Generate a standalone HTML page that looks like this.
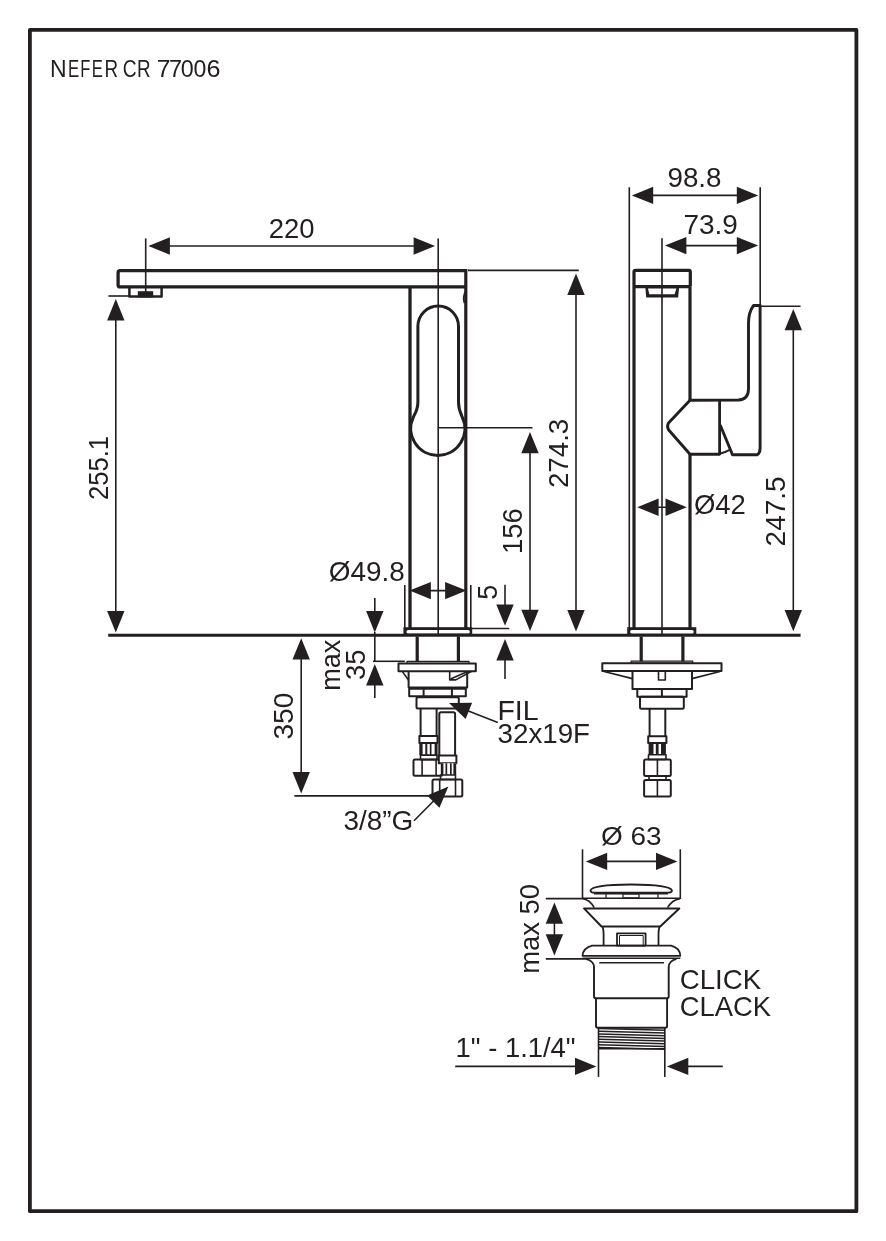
<!DOCTYPE html>
<html><head><meta charset="utf-8"><style>
html,body{margin:0;padding:0;background:#fff;}
svg{display:block;will-change:transform;}
text{font-family:"Liberation Sans",sans-serif;fill:#231f20;stroke:none;}
</style></head><body>
<svg width="886" height="1241" viewBox="0 0 886 1241">
<rect x="0" y="0" width="886" height="1241" fill="#fff"/>
<g stroke="#231f20" fill="none" stroke-linejoin="round">
<rect x="29.90" y="29.80" width="826.50" height="1181.40" rx="0" stroke-width="3.8" fill="none"/>
<text transform="translate(50.06,76.80) scale(0.9518,1)" font-size="24.20">N</text>
<text transform="translate(67.95,76.80) scale(0.6975,1)" font-size="24.20">E</text>
<text transform="translate(80.18,76.80) scale(0.6830,1)" font-size="24.20">F</text>
<text transform="translate(91.86,76.80) scale(0.6899,1)" font-size="24.20">E</text>
<text transform="translate(104.39,76.80) scale(0.7777,1)" font-size="24.20">R</text>
<text transform="translate(122.74,76.56) scale(0.8168,1)" font-size="23.52">C</text>
<text transform="translate(137.09,76.80) scale(0.7777,1)" font-size="24.20">R</text>
<text transform="translate(156.67,76.80) scale(1.0170,1)" font-size="24.20">7</text>
<text transform="translate(168.92,76.80) scale(0.9716,1)" font-size="24.20">7</text>
<text transform="translate(180.87,76.56) scale(0.9920,1)" font-size="23.52">0</text>
<text transform="translate(193.57,76.56) scale(0.9832,1)" font-size="23.52">0</text>
<text transform="translate(206.44,76.56) scale(1.0697,1)" font-size="23.52">6</text>
<path d="M465.8,270.6 L120.1,270.6 Q118.1,270.6 118.1,272.6 L118.1,284.9 Q118.1,286.9 120.1,286.9 L465.8,286.9" stroke-width="3.3" fill="none"/>
<line x1="465.80" y1="269.00" x2="465.80" y2="628.00" stroke-width="3.2"/>
<line x1="410.00" y1="286.60" x2="410.00" y2="628.00" stroke-width="3.3"/>
<path d="M465.3,292 Q462.6,297.5 464.4,303" stroke-width="1.8" fill="none"/>
<polyline points="129.40,286.20 129.40,296.60 161.60,296.60 161.60,286.20" stroke-width="2.5" fill="none"/>
<rect x="137.80" y="291.20" width="15.40" height="6.20" rx="0" stroke-width="0" fill="#231f20"/>
<path d="M417.9,326.3 A20.3,20.3 0 0 1 458.5,326.3 L458.5,402 Q458.5,409 462,416.5 A27,27 0 1 1 413.6,416.5 Q417.9,409 417.9,402 Z" stroke-width="3.0" fill="none"/>
<line x1="438.20" y1="238.40" x2="438.20" y2="635.00" stroke-width="1.6"/>
<rect x="403.40" y="627.20" width="68.80" height="8.30" rx="0" stroke-width="0" fill="#231f20"/>
<rect x="406.5" y="630" width="63.3" height="3.5" rx="1.6" fill="#fff" stroke="none"/>
<line x1="438.20" y1="629.00" x2="438.20" y2="635.00" stroke-width="1.6"/>
<line x1="108.20" y1="635.20" x2="800.60" y2="635.20" stroke-width="3"/>
<line x1="145.70" y1="238.40" x2="145.70" y2="296.50" stroke-width="1.6"/>
<line x1="150.00" y1="246.00" x2="433.00" y2="246.00" stroke-width="1.6"/>
<polygon points="148.50,246.00 169.90,237.30 169.90,254.70" stroke="none" fill="#231f20"/>
<polygon points="435.00,246.00 413.60,254.70 413.60,237.30" stroke="none" fill="#231f20"/>
<text transform="translate(268.63,237.62) scale(0.9751,1)" font-size="28.17">220</text>
<line x1="108.50" y1="296.00" x2="129.00" y2="296.00" stroke-width="1.6"/>
<line x1="115.80" y1="305.00" x2="115.80" y2="626.00" stroke-width="1.6"/>
<polygon points="115.80,299.00 124.50,320.40 107.10,320.40" stroke="none" fill="#231f20"/>
<polygon points="115.80,632.50 107.10,611.10 124.50,611.10" stroke="none" fill="#231f20"/>
<text transform="translate(107.62,499.98) rotate(-90) scale(0.9138,1)" font-size="28.03">255.1</text>
<line x1="468.00" y1="270.40" x2="578.80" y2="270.40" stroke-width="1.6"/>
<line x1="576.00" y1="280.00" x2="576.00" y2="625.00" stroke-width="1.6"/>
<polygon points="576.00,273.50 584.70,294.90 567.30,294.90" stroke="none" fill="#231f20"/>
<polygon points="576.00,631.50 567.30,610.10 584.70,610.10" stroke="none" fill="#231f20"/>
<text transform="translate(567.62,488.09) rotate(-90) scale(0.9939,1)" font-size="27.89">274.3</text>
<line x1="438.20" y1="427.70" x2="532.50" y2="427.70" stroke-width="1.6"/>
<line x1="530.00" y1="438.00" x2="530.00" y2="625.00" stroke-width="1.6"/>
<polygon points="530.00,431.90 538.70,453.30 521.30,453.30" stroke="none" fill="#231f20"/>
<polygon points="530.00,631.10 521.30,609.70 538.70,609.70" stroke="none" fill="#231f20"/>
<text transform="translate(521.52,554.06) rotate(-90) scale(0.9855,1)" font-size="27.89">156</text>
<line x1="404.80" y1="585.00" x2="404.80" y2="628.00" stroke-width="1.6"/>
<line x1="470.80" y1="585.00" x2="470.80" y2="628.00" stroke-width="1.6"/>
<line x1="415.00" y1="590.60" x2="461.00" y2="590.60" stroke-width="1.6"/>
<polygon points="409.50,590.60 430.90,581.90 430.90,599.30" stroke="none" fill="#231f20"/>
<polygon points="466.50,590.60 445.10,599.30 445.10,581.90" stroke="none" fill="#231f20"/>
<text transform="translate(328.82,581.22) scale(1.0285,1)" font-size="27.11">Ø49.8</text>
<line x1="505.00" y1="584.70" x2="505.00" y2="610.00" stroke-width="1.6"/>
<polygon points="505.00,625.80 496.30,604.40 513.70,604.40" stroke="none" fill="#231f20"/>
<line x1="471.60" y1="628.50" x2="509.30" y2="628.50" stroke-width="1.6"/>
<line x1="505.00" y1="650.00" x2="505.00" y2="679.00" stroke-width="1.6"/>
<polygon points="505.00,639.00 513.70,660.40 496.30,660.40" stroke="none" fill="#231f20"/>
<text transform="translate(496.72,599.68) rotate(-90) scale(0.9479,1)" font-size="28.43">5</text>
<line x1="374.80" y1="598.00" x2="374.80" y2="620.00" stroke-width="1.6"/>
<polygon points="374.80,632.40 366.10,611.00 383.50,611.00" stroke="none" fill="#231f20"/>
<line x1="373.00" y1="661.30" x2="404.80" y2="661.30" stroke-width="1.6"/>
<line x1="374.80" y1="632.00" x2="374.80" y2="661.30" stroke-width="1.6"/>
<line x1="374.80" y1="675.00" x2="374.80" y2="698.00" stroke-width="1.6"/>
<polygon points="374.80,664.00 383.50,685.40 366.10,685.40" stroke="none" fill="#231f20"/>
<text transform="translate(339.63,690.76) rotate(-90) scale(0.9986,1)" font-size="27.09">max</text>
<text transform="translate(364.62,680.00) rotate(-90) scale(0.9852,1)" font-size="27.89">35</text>
<line x1="301.20" y1="645.00" x2="301.20" y2="788.00" stroke-width="1.6"/>
<polygon points="301.20,638.20 309.90,659.60 292.50,659.60" stroke="none" fill="#231f20"/>
<polygon points="301.20,793.50 292.50,772.10 309.90,772.10" stroke="none" fill="#231f20"/>
<line x1="294.40" y1="795.90" x2="433.00" y2="795.90" stroke-width="1.6"/>
<text transform="translate(292.62,739.52) rotate(-90) scale(1.0030,1)" font-size="28.03">350</text>
<text transform="translate(343.38,829.63) scale(1.0220,1)" font-size="27.35">3/8”G</text>
<line x1="414.00" y1="820.80" x2="440.00" y2="794.50" stroke-width="1.6"/>
<polygon points="448.40,786.40 439.42,807.68 427.12,795.38" stroke="none" fill="#231f20"/>
<text transform="translate(497.42,719.60) scale(1.0151,1)" font-size="28.12">FIL</text>
<text transform="translate(497.59,743.43) scale(1.0101,1)" font-size="27.46">32x19F</text>
<line x1="497.80" y1="722.50" x2="462.00" y2="708.40" stroke-width="1.6"/>
<polygon points="449.00,703.00 472.10,702.86 465.64,719.02" stroke="none" fill="#231f20"/>
<line x1="417.20" y1="636.50" x2="417.20" y2="661.50" stroke-width="3.2"/>
<line x1="458.40" y1="636.50" x2="458.40" y2="661.50" stroke-width="3.2"/>
<rect x="407.00" y="661.30" width="62.00" height="2.10" rx="0" stroke-width="1.2" fill="none"/>
<rect x="398.50" y="663.40" width="77.30" height="7.90" rx="0" stroke-width="2" fill="none"/>
<polyline points="408.60,671.30 408.60,687.60 467.20,687.60 467.20,671.30" stroke-width="2" fill="none"/>
<polyline points="402.40,671.60 408.60,680.30" stroke-width="1.6" fill="none"/>
<polyline points="449.70,671.30 449.70,679.90 455.80,679.90 471.60,671.30" stroke-width="1.6" fill="none"/>
<line x1="450.50" y1="679.00" x2="467.10" y2="671.80" stroke-width="1.6"/>
<rect x="409.20" y="688.80" width="56.60" height="7.50" rx="0" stroke-width="2" fill="none"/>
<line x1="423.60" y1="688.80" x2="423.60" y2="696.30" stroke-width="2"/>
<line x1="451.90" y1="688.80" x2="451.90" y2="696.30" stroke-width="2"/>
<rect x="416.50" y="697.20" width="42.30" height="11.30" rx="1.5" stroke-width="2" fill="none"/>
<line x1="420.60" y1="708.50" x2="420.60" y2="736.10" stroke-width="2"/>
<line x1="436.60" y1="708.50" x2="436.60" y2="736.10" stroke-width="2"/>
<rect x="419.40" y="736.10" width="18.10" height="6.80" rx="0" stroke-width="2" fill="none"/>
<rect x="419.30" y="742.90" width="3.30" height="12.20" rx="0" stroke-width="0" fill="#231f20"/>
<rect x="425.30" y="742.90" width="2.00" height="12.20" rx="0" stroke-width="0" fill="#231f20"/>
<rect x="429.80" y="742.90" width="1.70" height="12.20" rx="0" stroke-width="0" fill="#231f20"/>
<rect x="434.60" y="742.90" width="3.00" height="12.20" rx="0" stroke-width="0" fill="#231f20"/>
<rect x="420.50" y="755.10" width="16.50" height="4.50" rx="0" stroke-width="1.6" fill="none"/>
<rect x="413.50" y="759.60" width="28.90" height="16.20" rx="1.5" stroke-width="2" fill="none"/>
<line x1="422.10" y1="759.60" x2="422.10" y2="775.80" stroke-width="1.6"/>
<line x1="436.10" y1="759.60" x2="436.10" y2="775.80" stroke-width="1.6"/>
<path d="M439.3,755.5 L439.3,714 Q439.3,712.2 441,712.2 L453.4,712.2 Q455.1,712.2 455.1,714 L455.1,755.5" stroke-width="2" fill="none"/>
<rect x="438.80" y="755.50" width="17.60" height="7.70" rx="0" stroke-width="2" fill="#fff"/>
<rect x="440.80" y="763.20" width="15.40" height="11.80" rx="0" stroke-width="0" fill="#fff"/>
<rect x="440.80" y="763.20" width="2.60" height="11.80" rx="0" stroke-width="0" fill="#231f20"/>
<rect x="445.50" y="763.20" width="1.70" height="11.80" rx="0" stroke-width="0" fill="#231f20"/>
<rect x="450.00" y="763.20" width="1.70" height="11.80" rx="0" stroke-width="0" fill="#231f20"/>
<rect x="453.40" y="763.20" width="2.80" height="11.80" rx="0" stroke-width="0" fill="#231f20"/>
<rect x="440.50" y="775.00" width="15.00" height="4.50" rx="0" stroke-width="1.6" fill="none"/>
<rect x="432.50" y="779.50" width="29.80" height="17.10" rx="1.5" stroke-width="2" fill="none"/>
<line x1="439.70" y1="779.50" x2="439.70" y2="796.60" stroke-width="1.6"/>
<line x1="455.50" y1="779.50" x2="455.50" y2="796.60" stroke-width="1.6"/>
<line x1="629.30" y1="187.20" x2="629.30" y2="628.00" stroke-width="1.6"/>
<line x1="760.20" y1="187.20" x2="760.20" y2="305.00" stroke-width="1.6"/>
<line x1="635.00" y1="195.40" x2="755.00" y2="195.40" stroke-width="1.6"/>
<polygon points="631.80,195.40 653.20,186.70 653.20,204.10" stroke="none" fill="#231f20"/>
<polygon points="758.20,195.40 736.80,204.10 736.80,186.70" stroke="none" fill="#231f20"/>
<text transform="translate(667.45,186.62) scale(0.9917,1)" font-size="28.03">98.8</text>
<line x1="662.00" y1="238.20" x2="662.00" y2="635.00" stroke-width="1.6"/>
<line x1="668.00" y1="245.60" x2="755.00" y2="245.60" stroke-width="1.6"/>
<polygon points="665.00,245.60 686.40,236.90 686.40,254.30" stroke="none" fill="#231f20"/>
<polygon points="758.20,245.60 736.80,254.30 736.80,236.90" stroke="none" fill="#231f20"/>
<text transform="translate(683.40,233.52) scale(0.9990,1)" font-size="28.03">73.9</text>
<path d="M634,628 L634,272 Q634,270.3 635.7,270.3 L689,270.3 Q690.3,270.3 690.3,272 L690.3,286.6" stroke-width="3.2" fill="none"/>
<line x1="634.00" y1="286.60" x2="690.30" y2="286.60" stroke-width="3.2"/>
<line x1="690.00" y1="286.60" x2="690.00" y2="400.30" stroke-width="3.2"/>
<line x1="690.00" y1="454.00" x2="690.00" y2="628.00" stroke-width="3.2"/>
<polygon points="645.3,286.6 646.2,297.6 678.2,297.6 679.1,286.6" fill="#231f20" stroke="none"/>
<polygon points="648,288.4 649.3,294.3 674.6,294.3 676.4,288.4" fill="#fff" stroke="none"/>
<line x1="662.00" y1="286.00" x2="662.00" y2="298.00" stroke-width="1.6"/>
<path d="M690,400.3 L738.4,400 Q748.5,399.5 748.5,388.7 L748.5,323.4 Q748.5,312 753.6,305.5 L760.1,305.5 L760.1,448.2 Q760.1,453 757.2,454.8 L732.5,454.8 L720.2,425" stroke-width="2.9" fill="none"/>
<path d="M690,400.3 L668.5,423 Q666.5,426.3 668.5,429.7 L690,454.2 L720.2,454.2" stroke-width="2.9" fill="none"/>
<line x1="719.60" y1="400.30" x2="719.60" y2="455.00" stroke-width="2.8"/>
<path d="M720.2,453.5 Q725,452.5 729.6,449.8" stroke-width="2" fill="none"/>
<line x1="760.00" y1="306.30" x2="800.60" y2="306.30" stroke-width="1.6"/>
<line x1="793.30" y1="315.00" x2="793.30" y2="625.00" stroke-width="1.6"/>
<polygon points="793.30,308.90 802.00,330.30 784.60,330.30" stroke="none" fill="#231f20"/>
<polygon points="793.30,631.30 784.60,609.90 802.00,609.90" stroke="none" fill="#231f20"/>
<text transform="translate(784.72,546.40) rotate(-90) scale(0.9879,1)" font-size="28.31">247.5</text>
<line x1="642.00" y1="507.20" x2="682.00" y2="507.20" stroke-width="1.6"/>
<polygon points="637.20,507.20 658.60,498.50 658.60,515.90" stroke="none" fill="#231f20"/>
<polygon points="686.90,507.20 665.50,515.90 665.50,498.50" stroke="none" fill="#231f20"/>
<text transform="translate(693.94,514.32) scale(1.0135,1)" font-size="27.11">Ø42</text>
<rect x="627.20" y="627.20" width="69.10" height="8.30" rx="0" stroke-width="0" fill="#231f20"/>
<rect x="630.2" y="630" width="63.5" height="3.5" rx="1.6" fill="#fff" stroke="none"/>
<line x1="662.00" y1="629.00" x2="662.00" y2="635.00" stroke-width="1.6"/>
<line x1="641.20" y1="636.50" x2="641.20" y2="661.50" stroke-width="3.2"/>
<line x1="682.90" y1="636.50" x2="682.90" y2="661.50" stroke-width="3.2"/>
<rect x="631.10" y="661.20" width="61.60" height="2.00" rx="0" stroke-width="1.2" fill="none"/>
<rect x="602.30" y="663.20" width="119.20" height="7.90" rx="0" stroke-width="2" fill="none"/>
<polyline points="632.50,671.10 632.50,688.90 692.00,688.90 692.00,671.10" stroke-width="2" fill="none"/>
<line x1="604.00" y1="671.50" x2="632.50" y2="678.60" stroke-width="1.6"/>
<line x1="720.00" y1="671.50" x2="692.00" y2="678.60" stroke-width="1.6"/>
<polyline points="658.50,671.10 658.50,680.00 665.30,680.00 665.30,671.10" stroke-width="1.6" fill="none"/>
<rect x="637.30" y="688.90" width="49.30" height="7.80" rx="0" stroke-width="2" fill="none"/>
<line x1="661.90" y1="688.90" x2="661.90" y2="696.70" stroke-width="2"/>
<rect x="640.00" y="696.70" width="43.80" height="12.10" rx="1.5" stroke-width="2" fill="none"/>
<line x1="649.60" y1="708.80" x2="649.60" y2="736.20" stroke-width="2"/>
<line x1="665.30" y1="708.80" x2="665.30" y2="736.20" stroke-width="2"/>
<rect x="648.20" y="736.20" width="18.20" height="6.80" rx="0" stroke-width="2" fill="none"/>
<rect x="648.60" y="743.00" width="4.90" height="11.70" rx="0" stroke-width="0" fill="#231f20"/>
<rect x="655.80" y="743.00" width="2.80" height="11.70" rx="0" stroke-width="0" fill="#231f20"/>
<rect x="661.00" y="743.00" width="4.90" height="11.70" rx="0" stroke-width="0" fill="#231f20"/>
<rect x="648.50" y="754.70" width="17.50" height="4.80" rx="0" stroke-width="1.6" fill="none"/>
<rect x="644.10" y="759.50" width="26.70" height="16.40" rx="1.5" stroke-width="2" fill="none"/>
<line x1="657.40" y1="759.50" x2="657.40" y2="775.90" stroke-width="1.6"/>
<rect x="649.00" y="775.90" width="17.00" height="4.10" rx="0" stroke-width="1.6" fill="none"/>
<rect x="644.10" y="780.00" width="26.70" height="16.40" rx="1.5" stroke-width="2" fill="none"/>
<line x1="657.40" y1="780.00" x2="657.40" y2="796.40" stroke-width="1.6"/>
<line x1="582.50" y1="849.30" x2="582.50" y2="898.60" stroke-width="1.6"/>
<line x1="680.30" y1="849.30" x2="680.30" y2="899.00" stroke-width="1.6"/>
<line x1="590.00" y1="861.40" x2="674.00" y2="861.40" stroke-width="1.6"/>
<polygon points="585.80,861.40 607.20,852.70 607.20,870.10" stroke="none" fill="#231f20"/>
<polygon points="677.40,861.40 656.00,870.10 656.00,852.70" stroke="none" fill="#231f20"/>
<text transform="translate(601.02,844.84) scale(1.0639,1)" font-size="26.31">Ø 63</text>
<path d="M590.5,890.5 Q592,884.7 631,884.5 Q670,884.7 672,890.5 Q672,892.7 668,892.7 L594.5,892.7 Q590.5,892.7 590.5,890.5 Z" stroke-width="1.8" fill="none"/>
<line x1="594.00" y1="893.70" x2="668.00" y2="893.70" stroke-width="1.6"/>
<polyline points="606.00,893.70 606.00,897.90" stroke-width="1.2" fill="none"/>
<polyline points="658.00,893.70 658.00,897.90" stroke-width="1.2" fill="none"/>
<rect x="623.00" y="894.00" width="16.00" height="3.90" rx="0" stroke-width="1.2" fill="none"/>
<line x1="582.50" y1="898.30" x2="680.30" y2="898.30" stroke-width="1.6"/>
<path d="M583,898.6 Q590,900 594.2,907.6" stroke-width="1.6" fill="none"/>
<path d="M680,898.6 Q672,900 667.6,907.6" stroke-width="1.6" fill="none"/>
<polygon points="584.00,908.40 679.30,908.40 660.20,926.50 601.50,926.50" stroke-width="2" fill="none"/>
<path d="M602.6,926.5 Q603.6,930 603.6,934 L603.6,945.6" stroke-width="1.8" fill="none"/>
<path d="M659.5,926.5 Q658.5,930 658.5,934 L658.5,945.6" stroke-width="1.8" fill="none"/>
<rect x="617.00" y="933.40" width="28.60" height="12.20" rx="0" stroke-width="1.8" fill="none"/>
<rect x="619.50" y="935.50" width="23.70" height="10.10" rx="0" stroke-width="1" fill="none"/>
<path d="M592,945.6 L671.2,945.6 Q680,948 680.3,955.8 L582.5,955.8 Q583,948 592,945.6 Z" stroke-width="1.8" fill="none"/>
<line x1="582.50" y1="958.30" x2="680.30" y2="958.30" stroke-width="1.6"/>
<line x1="545.80" y1="898.60" x2="583.50" y2="898.60" stroke-width="1.6"/>
<line x1="545.80" y1="958.90" x2="586.00" y2="958.90" stroke-width="1.6"/>
<path d="M586,958.8 Q594,961 594,967 L594,996.5 Q594,998.2 595.7,998.2 L667,998.2 Q668.7,998.2 668.7,996.5 L668.7,967 Q668.7,961 676.4,958.8" stroke-width="1.9" fill="none"/>
<line x1="599.30" y1="962.70" x2="664.00" y2="962.70" stroke-width="1.6"/>
<path d="M596,998.2 L596,1026 Q596,1027.7 597.7,1027.7 L665.4,1027.7 Q667.1,1027.7 667.1,1026 L667.1,998.2" stroke-width="1.9" fill="none"/>
<line x1="598.5" y1="1028.50" x2="665.2" y2="1030.30" stroke-width="1.5"/>
<line x1="598.5" y1="1031.20" x2="665.2" y2="1033.00" stroke-width="1.5"/>
<line x1="598.5" y1="1033.90" x2="665.2" y2="1035.70" stroke-width="1.5"/>
<line x1="598.5" y1="1036.60" x2="665.2" y2="1038.40" stroke-width="1.5"/>
<line x1="598.5" y1="1039.30" x2="665.2" y2="1041.10" stroke-width="1.5"/>
<line x1="598.5" y1="1042.00" x2="665.2" y2="1043.80" stroke-width="1.5"/>
<line x1="598.5" y1="1044.70" x2="665.2" y2="1046.50" stroke-width="1.5"/>
<line x1="598.5" y1="1047.40" x2="665.2" y2="1049.20" stroke-width="1.5"/>
<line x1="598.50" y1="1027.70" x2="598.50" y2="1076.90" stroke-width="1.6"/>
<line x1="664.80" y1="1027.70" x2="664.80" y2="1076.90" stroke-width="1.6"/>
<line x1="598.50" y1="1048.80" x2="665.20" y2="1048.80" stroke-width="1.6"/>
<line x1="554.40" y1="910.00" x2="554.40" y2="948.00" stroke-width="1.6"/>
<polygon points="554.40,902.40 563.10,923.80 545.70,923.80" stroke="none" fill="#231f20"/>
<polygon points="554.40,955.60 545.70,934.20 563.10,934.20" stroke="none" fill="#231f20"/>
<text transform="translate(538.63,973.78) rotate(-90) scale(0.9984,1)" font-size="27.46">max 50</text>
<text transform="translate(679.72,988.82) scale(0.9771,1)" font-size="28.31">CLICK</text>
<text transform="translate(679.73,1015.72) scale(0.9675,1)" font-size="28.31">CLACK</text>
<text transform="translate(455.54,1056.83) scale(1.0183,1)" font-size="26.94">1" - 1.1/4"</text>
<line x1="455.20" y1="1066.40" x2="580.00" y2="1066.40" stroke-width="1.6"/>
<polygon points="596.40,1066.40 575.00,1075.10 575.00,1057.70" stroke="none" fill="#231f20"/>
<line x1="685.00" y1="1066.40" x2="722.80" y2="1066.40" stroke-width="1.6"/>
<polygon points="666.90,1066.40 688.30,1057.70 688.30,1075.10" stroke="none" fill="#231f20"/>
</g>
</svg>
</body></html>
